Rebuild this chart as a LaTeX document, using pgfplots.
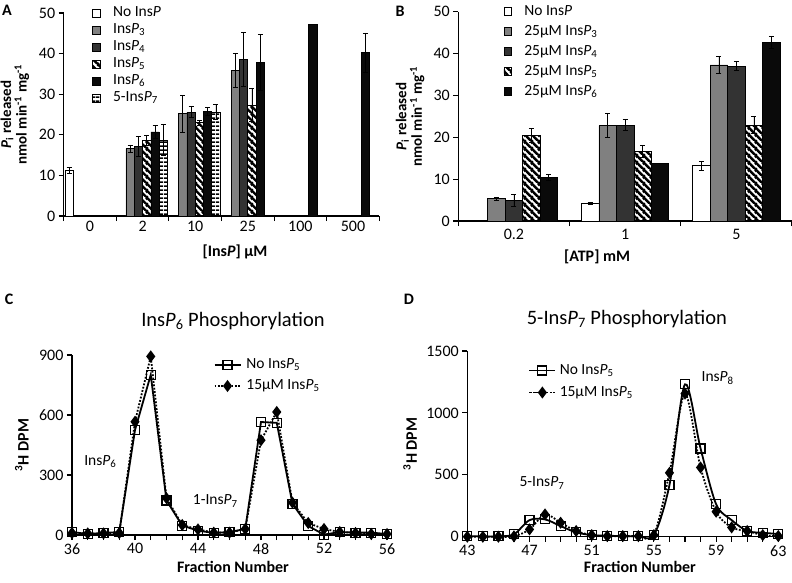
\documentclass[border=0pt]{standalone}
\usepackage{fontspec}
\setmainfont{Carlito}
\usepackage{pgfplots}
\pgfplotsset{compat=1.18}
\usetikzlibrary{patterns,patterns.meta}

\definecolor{gInsPthree}{HTML}{808080}
\definecolor{gInsPfour}{HTML}{333333}
\definecolor{gInsPsix}{HTML}{0A0A0A}

% wide black/white diagonal stripes (InsP5) and horizontal stripes (5-InsP7)
\tikzdeclarepattern{
  name=wstripes, type=uncolored,
  bounding box={(0pt,0pt) and (7pt,7pt)},
  tile size={(7pt,7pt)},
  code={
    \fill (-1pt,6.1pt) -- (6.1pt,-1pt) -- (9.9pt,-1pt) -- (-1pt,9.9pt) -- cycle;
    \fill (-1pt,-0.9pt) -- (-0.9pt,-1pt) -- (2.9pt,-1pt) -- (-1pt,2.9pt) -- cycle;
    \fill (6pt,6.1pt) -- (8pt,4.1pt) -- (8pt,7.9pt) -- (6pt,9.9pt) -- cycle;
  }
}
\tikzdeclarepattern{
  name=hstripes, type=uncolored,
  bounding box={(0pt,0pt) and (4pt,4pt)},
  tile size={(4pt,4pt)},
  code={\fill (0pt,0pt) rectangle (4pt,1.9pt);}
}

\newcommand\fs{\fontsize{15.5}{17}\selectfont}

\pgfplotsset{
  /pgf/number format/assume math mode=true,
  /pgf/number format/set thousands separator={},
  base/.style={
    scale only axis, anchor=south west, enlargelimits=false, clip=false,
    axis lines=left, axis line style={-, line width=1.1pt},
    tick align=outside, tick style={black, line width=1.1pt},
    major tick length=5pt, minor tick length=5pt,
    tick label style={font=\fontsize{16}{18}\selectfont},
    label style={font=\fontsize{16}{18}\selectfont\bfseries},
    scaled ticks=false,
  },
  barleg/.style={legend image code/.code={\draw[##1] (0pt,-3.8pt) rectangle (7.6pt,3.8pt);}},
  mybar/.style={ybar, barleg, bar shift=0pt, draw=black, line width=0.7pt,
    error bars/y dir=both, error bars/y explicit,
    error bars/error bar style={line width=0.7pt, black, solid},
    error bars/error mark options={rotate=90, mark size=2.5pt, line width=0.7pt, black}},
  linleg/.style={legend image code/.code={%
    \draw[mark repeat=2, mark phase=2, ##1] plot coordinates {(0pt,0pt) (13pt,0pt) (26pt,0pt)};}},
  noP/.style={black, line width=1.8pt, mark=square, mark size=4.5pt,
    mark options={solid, line width=1.2pt, fill=none}, linleg},
  withP/.style={black, line width=1.8pt, dash pattern=on 1.8pt off 1.6pt,
    mark=diamond*, mark size=4.6pt, mark options={solid, fill=black}, linleg},
}

\begin{document}
\begin{tikzpicture}
\useasboundingbox (0pt,0pt) rectangle (792pt,-582pt);

% ---------------- A ----------------
\begin{axis}[base,
  at={(63.7pt,-216pt)}, width=315.6pt, height=203pt,
  xmin=-0.5, xmax=5.5, ymin=0, ymax=50,
  xtick={0,...,5}, xticklabels={0,2,10,25,100,500},
  minor xtick={-0.5,0.5,...,5.5},
  major x tick style={draw=none},
  xticklabel style={yshift=3pt},
  ytick={0,10,...,50},
  xlabel={[Ins\textit{P}] µM},
  xlabel style={at={(axis description cs:0.543,-0.177)}, anchor=center},
  ylabel={\textit{P}\textsubscript{i} released\\nmol min\textsuperscript{-1} mg\textsuperscript{-1}},
  ylabel style={align=center, at={(axis description cs:-0.155,0.5)}, anchor=center,
    font=\fontsize{15}{15.5}\selectfont\bfseries},
  legend style={draw=none, fill=none, at={(0.09,1.04)}, anchor=north west,
    font=\fs, row sep=1pt, inner sep=0pt,
    nodes={text height=10pt, text depth=3pt, inner sep=1.5pt},
    /tikz/every odd column/.append style={column sep=11pt}},
  legend cell align=left,
]
\addplot[mybar, bar width=0.158, fill=white]
  coordinates {(-0.395,11.3) +- (0,0.7)};
\addlegendentry{No Ins\textit{P}}
\addplot[mybar, bar width=0.158, fill=gInsPthree]
  coordinates {(0.763,16.6) +- (0,0.9) (1.763,25.2) +- (0,4.5) (2.763,35.8) +- (0,4.2)};
\addlegendentry{Ins\textit{P}\textsubscript{3}}
\addplot[mybar, bar width=0.158, fill=gInsPfour]
  coordinates {(0.921,17.2) +- (0,2.5) (1.921,25.6) +- (0,1.4) (2.921,38.6) +- (0,6.7)};
\addlegendentry{Ins\textit{P}\textsubscript{4}}
\addplot[mybar, bar width=0.158, pattern=wstripes, pattern color=black]
  coordinates {(1.079,18.7) +- (0,1.2) (2.079,23.0) +- (0,0.6) (3.079,27.3) +- (0,4.1)};
\addlegendentry{Ins\textit{P}\textsubscript{5}}
\addplot[mybar, bar width=0.158, fill=gInsPsix]
  coordinates {(1.237,20.7) +- (0,1.6) (2.237,25.7) +- (0,1.0) (3.237,37.8) +- (0,6.9)
               (4.237,47.2) +- (0,0) (5.237,40.3) +- (0,4.8)};
\addlegendentry{Ins\textit{P}\textsubscript{6}}
\addplot[mybar, bar width=0.158, pattern=hstripes, pattern color=black]
  coordinates {(1.395,18.7) +- (0,3.8) (2.395,25.6) +- (0,1.8)};
\addlegendentry{5-Ins\textit{P}\textsubscript{7}}
\end{axis}

% ---------------- B ----------------
\begin{axis}[base,
  at={(458.3pt,-221pt)}, width=333.7pt, height=209.3pt,
  xmin=-0.5, xmax=2.5, ymin=0, ymax=50,
  xtick={0,1,2}, xticklabels={0.2,1,5},
  minor xtick={-0.5,0.5,1.5,2.5},
  major x tick style={draw=none},
  ytick={0,10,...,50},
  xlabel={[ATP] mM},
  xlabel style={at={(axis description cs:0.416,-0.172)}, anchor=center},
  ylabel={\textit{P}\textsubscript{i} released\\nmol min\textsuperscript{-1} mg\textsuperscript{-1}},
  ylabel style={align=center, at={(axis description cs:-0.144,0.5)}, anchor=center,
    font=\fontsize{15}{15.5}\selectfont\bfseries},
  legend style={draw=none, fill=none, at={(0.135,1.04)}, anchor=north west,
    font=\fs, row sep=4pt, inner sep=0pt,
    nodes={text height=10pt, text depth=3pt, inner sep=1.5pt},
    /tikz/every odd column/.append style={column sep=11pt}},
  legend cell align=left,
]
\addplot[mybar, bar width=0.157, fill=white]
  coordinates {(-0.314,0.2) +- (0,0) (0.686,4.2) +- (0,0.3) (1.686,13.2) +- (0,1.1)};
\addlegendentry{No Ins\textit{P}}
\addplot[mybar, bar width=0.157, fill=gInsPthree]
  coordinates {(-0.157,5.3) +- (0,0.4) (0.843,22.8) +- (0,2.9) (1.843,37.3) +- (0,2.1)};
\addlegendentry{25µM Ins\textit{P}\textsubscript{3}}
\addplot[mybar, bar width=0.157, fill=gInsPfour]
  coordinates {(0,4.9) +- (0,1.5) (1,22.9) +- (0,1.3) (2,37.0) +- (0,1.1)};
\addlegendentry{25µM Ins\textit{P}\textsubscript{4}}
\addplot[mybar, bar width=0.157, pattern=wstripes, pattern color=black]
  coordinates {(0.157,20.5) +- (0,1.6) (1.157,16.6) +- (0,1.4) (2.157,22.9) +- (0,2.0)};
\addlegendentry{25µM Ins\textit{P}\textsubscript{5}}
\addplot[mybar, bar width=0.157, fill=gInsPsix]
  coordinates {(0.314,10.4) +- (0,0.7) (1.314,13.8) +- (0,0) (2.314,42.6) +- (0,1.4)};
\addlegendentry{25µM Ins\textit{P}\textsubscript{6}}
\end{axis}

% ---------------- C ----------------
\begin{axis}[base,
  at={(72pt,-535pt)}, width=315pt, height=180pt,
  xmin=36, xmax=56, ymin=0, ymax=900,
  xtick={36,40,...,56}, minor x tick num=3,
  ytick={0,300,600,900},
  xlabel={Fraction Number},
  xlabel style={at={(axis description cs:0.511,-0.178)}, anchor=center},
  ylabel={\textsuperscript{3}H DPM},
  ylabel style={at={(axis description cs:-0.159,0.5)}, anchor=center},
  title={Ins\textit{P}\textsubscript{6} Phosphorylation},
  title style={at={(axis description cs:0.511,1.155)}, anchor=center, font=\fontsize{20.5}{22}\selectfont},
  legend style={draw=none, fill=none, at={(0.449,0.99)}, anchor=north west,
    font=\fs, row sep=5pt, inner sep=0pt,
    nodes={text height=10pt, text depth=3pt, inner sep=1.5pt},
    /tikz/every odd column/.append style={column sep=3.5pt}},
  legend cell align=left,
]
\addplot[noP] coordinates {
  (36,15) (37,5) (38,10) (39,15) (40,525) (41,801) (42,173) (43,47) (44,22) (45,10)
  (46,15) (47,30) (48,565) (49,561) (50,156) (51,45) (52,2) (53,15) (54,12) (55,12) (56,5)};
\addlegendentry{No Ins\textit{P}\textsubscript{5}}
\addplot[withP] coordinates {
  (36,10) (37,8) (38,8) (39,10) (40,566) (41,893) (42,184) (43,50) (44,28) (45,12)
  (46,12) (47,30) (48,474) (49,615) (50,162) (51,60) (52,30) (53,15) (54,10) (55,5) (56,5)};
\addlegendentry{15µM Ins\textit{P}\textsubscript{5}}
\node[font=\fs] at (axis cs:37.8,366) {Ins\textit{P}\textsubscript{6}};
\node[font=\fs] at (axis cs:45.1,170) {1-Ins\textit{P}\textsubscript{7}};
\end{axis}

% ---------------- D ----------------
\begin{axis}[base,
  at={(467.3pt,-536.7pt)}, width=311pt, height=185.7pt,
  xmin=43, xmax=63, ymin=0, ymax=1500,
  xtick={43,47,...,63}, minor x tick num=3,
  ytick={0,500,1000,1500},
  xlabel={Fraction Number},
  xlabel style={at={(axis description cs:0.555,-0.163)}, anchor=center},
  ylabel={\textsuperscript{3}H DPM},
  ylabel style={at={(axis description cs:-0.184,0.5)}, anchor=center},
  title={5-Ins\textit{P}\textsubscript{7} Phosphorylation},
  title style={at={(axis description cs:0.513,1.14)}, anchor=center, font=\fontsize{20.5}{22}\selectfont},
  legend style={draw=none, fill=none, at={(0.196,0.939)}, anchor=north west,
    font=\fs, row sep=6pt, inner sep=0pt,
    nodes={text height=10pt, text depth=3pt, inner sep=1.5pt},
    /tikz/every odd column/.append style={column sep=2pt}},
  legend cell align=left,
]
\addplot[noP, smooth] coordinates {
  (43,3) (44,3) (45,3) (46,19) (47,134) (48,140) (49,86) (50,35) (51,13) (52,8)
  (53,5) (54,5) (55,13) (56,417) (57,1231) (58,713) (59,263) (60,134) (61,46) (62,32) (63,22)};
\addlegendentry{No Ins\textit{P}\textsubscript{5}}
\addplot[withP, smooth] coordinates {
  (43,0) (44,0) (45,0) (46,3) (47,59) (48,180) (49,113) (50,46) (51,13) (52,5)
  (53,5) (54,5) (55,13) (56,516) (57,1156) (58,559) (59,202) (60,75) (61,46) (62,13) (63,5)};
\addlegendentry{15µM Ins\textit{P}\textsubscript{5}}
\node[font=\fs] at (axis cs:47.8,433) {5-Ins\textit{P}\textsubscript{7}};
\node[font=\fs] at (axis cs:59.1,1280) {Ins\textit{P}\textsubscript{8}};
\end{axis}

% panel letters
\node[font=\fontsize{16}{18}\selectfont\bfseries] at (7pt,-10pt) {A};
\node[font=\fontsize{16}{18}\selectfont\bfseries] at (400pt,-11pt) {B};
\node[font=\fontsize{16}{18}\selectfont\bfseries] at (9pt,-299pt) {C};
\node[font=\fontsize{16}{18}\selectfont\bfseries] at (409pt,-299pt) {D};
\end{tikzpicture}
\end{document}
